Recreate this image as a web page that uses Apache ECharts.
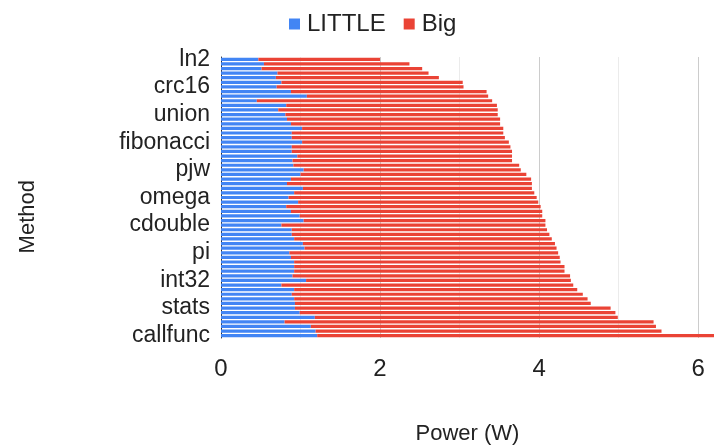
<!DOCTYPE html>
<html>
<head>
<meta charset="utf-8">
<script src="https://cdn.jsdelivr.net/npm/echarts@6/dist/echarts.min.js"></script>
<style>
html,body{margin:0;padding:0;background:#fff;}
#chart{width:714px;height:448px;}
</style>
</head>
<body>
<div id="chart"></div>
<script>
// Categories (top to bottom); only every 6th label is shown in the chart
const methods = [
  'ln2','ackermann','apery','bitops','cfloat','clongdouble',
  'crc16','collatz','correlate','decimal32','decimal64','decimal128',
  'union','dither','div16','div32','div64','djb2a',
  'fibonacci','double','euler','explog','factorial','fft',
  'pjw','fletcher16','float','float32','float64','float80',
  'omega','float128','fnv1a','gamma','gcd','gray',
  'cdouble','hamming','hanoi','hyperbolic','idct','int8',
  'pi','int16','int64','int128','ipv4checksum','jmp',
  'int32','lfsr32','logmap','longdouble','loop','matrixprod',
  'stats','nsqrt','parity','phi','prime','psi',
  'callfunc'
];
// LITTLE cluster power (W)
const littleVals = [
  0.47,0.54,0.51,0.71,0.69,0.76,
  0.70,0.88,1.08,0.45,0.82,0.72,
  0.81,0.83,0.88,1.02,0.89,0.89,
  1.02,0.89,0.89,0.96,0.90,0.91,
  1.04,1.00,0.88,0.83,1.03,0.92,
  0.85,0.97,0.82,0.88,0.99,1.04,
  0.76,0.89,0.89,0.92,1.03,1.05,
  0.86,0.88,0.92,0.92,0.92,0.90,
  1.07,0.76,0.92,0.89,0.92,0.93,
  0.93,0.99,1.18,0.80,1.13,1.19,
  1.21
];
// Big cluster power (W), stacked after LITTLE
const bigVals = [
  1.53,1.83,2.02,1.90,2.05,2.28,
  2.35,2.46,2.28,2.96,2.65,2.76,
  2.67,2.68,2.63,2.53,2.66,2.68,
  2.60,2.75,2.77,2.70,2.76,2.84,
  2.73,2.84,3.02,3.08,2.88,3.02,
  3.12,3.02,3.20,3.16,3.05,3.04,
  3.32,3.21,3.24,3.24,3.17,3.17,
  3.38,3.38,3.35,3.40,3.40,3.49,
  3.33,3.67,3.56,3.66,3.69,3.72,
  3.97,3.97,3.81,4.64,4.34,4.35,
  4.99
];
const xTicks = [0, 2, 4, 6];

const FONT = '"Liberation Sans", Arial, sans-serif';
const chart = echarts.init(document.getElementById('chart'), null, {renderer: 'canvas'});
chart.setOption({
  animation: false,
  textStyle: {fontFamily: FONT},
  color: ['#4285F4', '#EA4335'],
  legend: {
    top: 7,
    left: 284,
    itemWidth: 11,
    itemHeight: 11,
    itemGap: 18,
    icon: 'rect',
    textStyle: {fontSize: 24, color: '#222', fontFamily: FONT, padding: [0, 0, 0, 2]},
    data: ['LITTLE', 'Big']
  },
  grid: {left: 221, right: 0, top: 57, bottom: 110, containLabel: false, outerBoundsMode: 'none'},
  xAxis: {
    type: 'value',
    min: 0,
    max: 6.2,
    interval: 2,
    name: 'Power (W)',
    nameLocation: 'middle',
    nameGap: 85,
    nameTextStyle: {fontSize: 22, color: '#222', fontFamily: FONT},
    axisLine: {show: false},
    axisTick: {show: false},
    axisLabel: {
      fontSize: 24, color: '#222', margin: 19, fontFamily: FONT,
      showMaxLabel: false,
      formatter: v => (xTicks.indexOf(v) >= 0 ? String(v) : '')
    },
    splitLine: {show: true, lineStyle: {color: '#cccccc', width: 1}},
    minorTick: {show: false, splitNumber: 2},
    minorSplitLine: {show: true, lineStyle: {color: '#ebebeb', width: 1}}
  },
  yAxis: {
    type: 'category',
    inverse: true,
    data: methods,
    axisLine: {show: true, lineStyle: {color: '#333', width: 1}},
    axisTick: {show: false},
    axisLabel: {interval: 5, fontSize: 23, color: '#222', margin: 11, fontFamily: FONT},
    splitLine: {show: false}
  },
  graphic: [{
    type: 'text',
    left: 17,
    top: 180,
    rotation: Math.PI / 2,
    style: {text: 'Method', fontSize: 22, fill: '#222', fontFamily: FONT}
  }],
  series: [
    {name: 'LITTLE', type: 'bar', stack: 'p', data: littleVals, barCategoryGap: '30%'},
    {name: 'Big', type: 'bar', stack: 'p', data: bigVals, barCategoryGap: '30%'}
  ]
});
</script>
</body>
</html>
